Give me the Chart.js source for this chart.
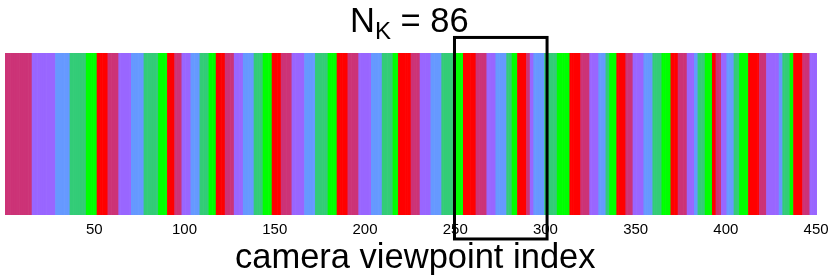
<!DOCTYPE html>
<html>
<head>
<meta charset="utf-8">
<script src="https://cdn.jsdelivr.net/npm/chart.js@4/dist/chart.umd.min.js"></script>
<style>
  html, body { margin: 0; padding: 0; background: #ffffff; }
  #wrap { position: relative; width: 830px; height: 277px; overflow: hidden; }
  #c { position: absolute; left: 0; top: 0; }
  .txt {
    position: absolute;
    font-family: "Liberation Sans", Arial, Helvetica, sans-serif;
    font-size: 34.5px; line-height: 34px; color: #000; white-space: nowrap;
  }
  #title { left: 350px; top: 3px; }
  #title .sub { font-size: 24px; position: relative; top: 7px; }
  #xtitle { left: 235px; top: 239px; }
</style>
</head>
<body>
<div id="wrap">
  <canvas id="c" width="830" height="277"></canvas>
  <div id="title" class="txt">N<span class="sub">K</span> = 86</div>
  <div id="xtitle" class="txt">camera viewpoint index</div>
</div>
<script>
// ---- data ----
const nViewpoints = 450;
// cyclic colour sequence of the bands
const bandColors = ['#cc3377', '#9966ff', '#6699ff', '#33cc77', '#00ff00', '#ff0000'];
// first viewpoint index (1-based) of each band; colours cycle through bandColors
const bandStarts = [
  1, 16, 29, 37, 46, 52,
  58, 64, 71, 78, 86, 91,
  95, 99, 104, 109, 114, 118,
  123, 128, 133, 139, 144, 149,
  154, 160, 167, 173, 180, 185,
  191, 197, 204, 210, 216, 219,
  226, 231, 237, 243, 250, 255,
  262, 268, 273, 279, 282, 285,
  290, 292, 294, 300, 307, 314,
  320, 325, 330, 334, 336, 340,
  345, 349, 355, 360, 365, 370,
  374, 379, 383, 385, 389, 393,
  395, 398, 401, 405, 408, 413,
  419, 423, 430, 432, 436, 438,
  443, 447
];
const tickLabels = [50, 100, 150, 200, 250, 300, 350, 400, 450];
// highlighted window (viewpoint index range) and its vertical extent in strip units
const boxX = [249.6, 300.9];
const boxY = [-0.148, 1.096];

// ---- build per-viewpoint arrays ----
const labels = [];
const values = [];
const colors = [];
let band = 0;
for (let v = 1; v <= nViewpoints; v++) {
  while (band + 1 < bandStarts.length && v >= bandStarts[band + 1]) band++;
  labels.push(String(v));
  values.push(1);
  colors.push(bandColors[band % bandColors.length]);
}

const FONT = '"Liberation Sans", Arial, Helvetica, sans-serif';

const boxPlugin = {
  id: 'boxPlugin',
  afterDraw(chart) {
    const xs = chart.scales.x, ys = chart.scales.y;
    const x0 = xs.getPixelForValue(boxX[0] - 1);
    const x1 = xs.getPixelForValue(boxX[1] - 1);
    const y0 = ys.getPixelForValue(boxY[1]);
    const y1 = ys.getPixelForValue(boxY[0]);
    const ctx = chart.ctx;
    ctx.save();
    ctx.strokeStyle = '#000000';
    ctx.lineWidth = 3;
    ctx.strokeRect(x0, y0, x1 - x0, y1 - y0);
    ctx.restore();
  }
};

new Chart(document.getElementById('c'), {
  type: 'bar',
  data: {
    labels: labels,
    datasets: [{
      data: values,
      backgroundColor: colors,
      borderWidth: 0,
      barPercentage: 1.0,
      categoryPercentage: 1.0
    }]
  },
  options: {
    responsive: false,
    animation: false,
    devicePixelRatio: 1,
    layout: { padding: { left: 5, right: 13, top: 53, bottom: 0 } },
    plugins: { legend: { display: false }, tooltip: { enabled: false }, title: { display: false } },
    scales: {
      y: { display: false, min: 0, max: 1 },
      x: {
        type: 'category',
        offset: true,
        grid: { display: false, drawTicks: false },
        border: { display: false },
        afterFit: function (scale) {
          scale.paddingLeft = 0;
          scale.paddingRight = 0;
          scale.height = 62;
        },
        ticks: {
          autoSkip: false,
          maxRotation: 0,
          minRotation: 0,
          padding: 6,
          color: '#000000',
          font: { family: FONT, size: 15 },
          callback: function (value) {
            const lab = Number(this.getLabelForValue(value));
            return tickLabels.includes(lab) ? String(lab) : '';
          }
        },
        title: { display: false }
      }
    }
  },
  plugins: [boxPlugin]
});
</script>
</body>
</html>
